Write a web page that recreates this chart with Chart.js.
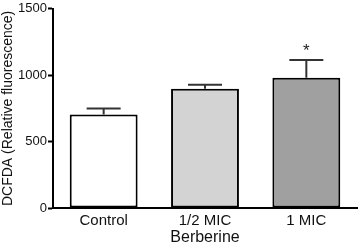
<!DOCTYPE html>
<html>
<head>
<meta charset="utf-8">
<script src="https://cdn.jsdelivr.net/npm/chart.js@4"></script>
<style>
  html, body { margin: 0; padding: 0; background: #fff; }
  #wrap { width: 358px; height: 243px; }
</style>
</head>
<body>
<div id="wrap"><canvas id="myChart"></canvas></div>
<script>
// data
var labels = ['Control', '1/2 MIC', '1 MIC'];
var means = [705, 898, 980];
var errors = [45, 30, 134];
var marks = ['', '', '*'];
var yTicks = [0, 500, 1000, 1500];

var barColors = ['#ffffff', '#d3d3d3', '#a0a0a0'];

// error bars (up only) and significance stars
var errorBarPlugin = {
    id: 'errorBars',
    afterDatasetsDraw: function(chart) {
        var c = chart.ctx;
        var meta = chart.getDatasetMeta(0);
        var y = chart.scales.y;
        c.save();
        c.strokeStyle = '#333';
        c.lineWidth = 2;
        meta.data.forEach(function(bar, i) {
            var top = y.getPixelForValue(means[i] + errors[i]);
            var base = y.getPixelForValue(means[i]);
            c.beginPath();
            c.moveTo(bar.x, base);
            c.lineTo(bar.x, top);
            c.moveTo(bar.x - 17, top);
            c.lineTo(bar.x + 17, top);
            c.stroke();
            if (marks[i]) {
                c.fillStyle = '#222';
                c.font = '17px "Liberation Sans", Arial, sans-serif';
                c.textAlign = 'center';
                c.textBaseline = 'middle';
                c.fillText(marks[i], bar.x, top - 9);
            }
        });
        c.restore();
    }
};

var ctx = document.getElementById('myChart').getContext('2d');
var chart = new Chart(ctx, {
    type: 'bar',
    data: {
        labels: labels,
        datasets: [{
            data: means,
            backgroundColor: barColors,
            borderColor: '#000',
            borderWidth: 2,
            borderSkipped: false,
            barPercentage: 0.67,
            categoryPercentage: 1
        }]
    },
    options: {
        responsive: true,
        maintainAspectRatio: false,
        animation: false,
        layout: { padding: { top: 6, right: 1, left: 0, bottom: 0 } },
        plugins: {
            legend: { display: false },
            tooltip: { enabled: false }
        },
        scales: {
            x: {
                grid: { display: false, drawTicks: false, tickLength: 0 },
                border: { display: true, color: '#000', width: 2 },
                ticks: {
                    color: '#111',
                    padding: 5,
                    font: { family: '"Liberation Sans", Arial, sans-serif', size: 15, lineHeight: 1 }
                },
                title: {
                    display: true,
                    text: 'Berberine',
                    color: '#111',
                    padding: { top: 3, bottom: -3 },
                    font: { family: '"Liberation Sans", Arial, sans-serif', size: 16, lineHeight: 1 }
                },
                afterFit: function(scale) { scale.height = 35; }
            },
            y: {
                min: 0,
                max: 1500,
                afterBuildTicks: function(scale) {
                    scale.ticks = yTicks.map(function(v) { return { value: v }; });
                },
                grid: {
                    drawOnChartArea: false,
                    drawTicks: true,
                    tickLength: 5,
                    tickWidth: 2,
                    tickColor: '#000'
                },
                border: { display: true, color: '#000', width: 2 },
                ticks: {
                    color: '#111',
                    padding: 1,
                    callback: function(v) { return String(v); },
                    font: { family: '"Liberation Sans", Arial, sans-serif', size: 13 }
                },
                title: {
                    display: true,
                    text: 'DCFDA (Relative fluorescence)',
                    color: '#111',
                    padding: 0,
                    font: { family: '"Liberation Sans", Arial, sans-serif', size: 14 }
                },
                afterFit: function(scale) { scale.width = 53; }
            }
        }
    },
    plugins: [errorBarPlugin]
});
</script>
</body>
</html>
